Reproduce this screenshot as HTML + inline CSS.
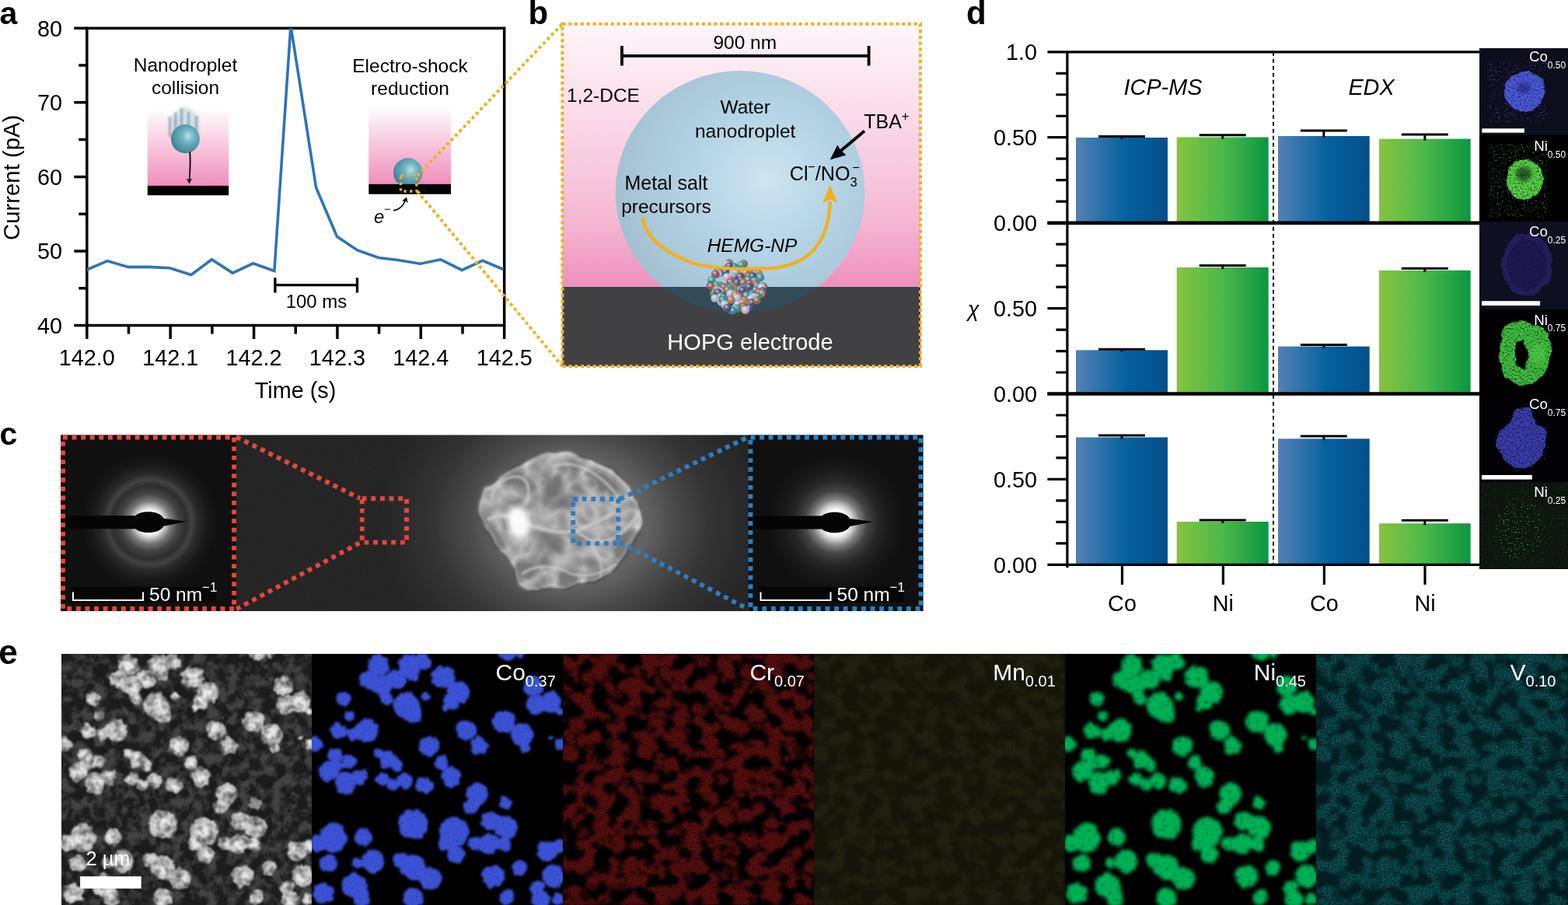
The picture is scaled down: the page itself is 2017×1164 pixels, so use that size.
<!DOCTYPE html>
<html><head><meta charset="utf-8"><title>Figure</title>
<style>
html,body{margin:0;padding:0;background:#fff;}
body{width:2017px;height:1164px;overflow:hidden;}
svg{display:block;}
svg text{font-family:'Liberation Sans', Arial, Helvetica, sans-serif;}
</style></head><body>
<svg width="2017" height="1164" viewBox="0 0 2017 1164">
<defs>
<linearGradient id="pinkA" x1="0" y1="0" x2="0" y2="1">
  <stop offset="0" stop-color="#ffffff"/>
  <stop offset="0.12" stop-color="#fdf0f6"/>
  <stop offset="1" stop-color="#f08ebb"/>
</linearGradient>
<linearGradient id="pinkB" x1="0" y1="0" x2="0" y2="1">
  <stop offset="0" stop-color="#fef6fa"/>
  <stop offset="0.5" stop-color="#f8cfe2"/>
  <stop offset="1" stop-color="#ef8fbd"/>
</linearGradient>
<radialGradient id="ballG" cx="0.6" cy="0.4" r="0.65">
  <stop offset="0" stop-color="#b9dfe8"/>
  <stop offset="0.35" stop-color="#6fb3c6"/>
  <stop offset="1" stop-color="#3f7d90"/>
</radialGradient>
<radialGradient id="dropG" cx="0.6" cy="0.45" r="0.6">
  <stop offset="0" stop-color="#cfe4ef"/>
  <stop offset="0.45" stop-color="#b5d5e6"/>
  <stop offset="1" stop-color="#a4c1d2"/>
</radialGradient>
<linearGradient id="blueBar" x1="0" y1="0" x2="1" y2="0">
  <stop offset="0" stop-color="#5481b4"/>
  <stop offset="0.55" stop-color="#04609f"/>
  <stop offset="1" stop-color="#064f8a"/>
</linearGradient>
<linearGradient id="greenBar" x1="0" y1="0" x2="1" y2="0">
  <stop offset="0" stop-color="#86c440"/>
  <stop offset="0.5" stop-color="#4bb84a"/>
  <stop offset="1" stop-color="#0a9640"/>
</linearGradient>
<filter id="blur1"><feGaussianBlur stdDeviation="1"/></filter>
<filter id="blur2"><feGaussianBlur stdDeviation="2"/></filter>
<filter id="blur4"><feGaussianBlur stdDeviation="4"/></filter>
<clipPath id="clipA"><rect x="111.8" y="36.3" width="536.9000000000001" height="382.2"/></clipPath><linearGradient id="pinkBg" x1="0" y1="0" x2="0" y2="1">
  <stop offset="0" stop-color="#fff6fa"/>
  <stop offset="0.35" stop-color="#fbdbe9"/>
  <stop offset="0.75" stop-color="#f5b7d3"/>
  <stop offset="1" stop-color="#ef8fbd"/>
</linearGradient>
<clipPath id="clipBot"><rect x="723" y="369" width="461" height="103"/></clipPath>
<clipPath id="clipTop"><rect x="723" y="30" width="461" height="339"/></clipPath>
<radialGradient id="npBall" cx="0.38" cy="0.35" r="0.7">
  <stop offset="0" stop-color="#fff" stop-opacity="0.7"/>
  <stop offset="0.5" stop-color="#fff" stop-opacity="0"/>
  <stop offset="1" stop-color="#000" stop-opacity="0.35"/>
</radialGradient>
<radialGradient id="temBg" gradientUnits="userSpaceOnUse" cx="735" cy="672" r="245" gradientTransform="translate(735 672) scale(1 0.85) translate(-735 -672)">
  <stop offset="0" stop-color="#6c6c6c"/>
  <stop offset="0.4" stop-color="#5c5c5c"/>
  <stop offset="0.55" stop-color="#424242"/>
  <stop offset="0.72" stop-color="#2c2c2c"/>
  <stop offset="0.88" stop-color="#222"/>
  <stop offset="1" stop-color="#1c1c1c"/>
</radialGradient>
<radialGradient id="saed1">
  <stop offset="0" stop-color="#ffffff"/>
  <stop offset="0.17" stop-color="#ffffff"/>
  <stop offset="0.23" stop-color="#c8c8c8"/>
  <stop offset="0.31" stop-color="#7a7a7a"/>
  <stop offset="0.42" stop-color="#444"/>
  <stop offset="0.54" stop-color="#2e2e2e"/>
  <stop offset="0.62" stop-color="#424242"/>
  <stop offset="0.7" stop-color="#2a2a2a"/>
  <stop offset="0.85" stop-color="#181818"/>
  <stop offset="1" stop-color="#101010"/>
</radialGradient>
<radialGradient id="saed2">
  <stop offset="0" stop-color="#ffffff"/>
  <stop offset="0.18" stop-color="#ffffff"/>
  <stop offset="0.25" stop-color="#d0d0d0"/>
  <stop offset="0.34" stop-color="#808080"/>
  <stop offset="0.46" stop-color="#444"/>
  <stop offset="0.62" stop-color="#262626"/>
  <stop offset="0.8" stop-color="#181818"/>
  <stop offset="1" stop-color="#101010"/>
</radialGradient>
<filter id="noiseF" x="0" y="0" width="100%" height="100%">
  <feTurbulence type="fractalNoise" baseFrequency="0.9" numOctaves="1" seed="3" result="n"/>
  <feColorMatrix in="n" type="matrix" values="0 0 0 0 0.5  0 0 0 0 0.5  0 0 0 0 0.5  0 0 0 0.12 0"/>
</filter>
<filter id="partF" x="-10%" y="-10%" width="120%" height="120%">
  <feTurbulence type="fractalNoise" baseFrequency="0.03" numOctaves="3" seed="5" result="t"/>
  <feDisplacementMap in="SourceGraphic" in2="t" scale="14" xChannelSelector="R" yChannelSelector="G" result="dsp"/>
  <feGaussianBlur in="dsp" stdDeviation="1.5"/>
</filter>
<filter id="ridgeF" x="-10%" y="-10%" width="120%" height="120%">
  <feGaussianBlur stdDeviation="1.6"/>
</filter>
<clipPath id="clipC1"><rect x="78" y="559.5" width="226" height="226.5"/></clipPath>
<clipPath id="clipC2"><rect x="962.5" y="559.5" width="225" height="226.5"/></clipPath>
<filter id="crumple" x="-10%" y="-10%" width="120%" height="120%" color-interpolation-filters="sRGB">
  <feTurbulence type="fractalNoise" baseFrequency="0.03" numOctaves="3" seed="5" result="t0"/>
  <feDisplacementMap in="SourceGraphic" in2="t0" scale="14" xChannelSelector="R" yChannelSelector="G" result="shape"/>
  <feGaussianBlur in="shape" stdDeviation="2" result="shapeb"/>
  <feTurbulence type="turbulence" baseFrequency="0.028" numOctaves="2" seed="21" result="t"/>
  <feColorMatrix in="t" type="matrix" values="-2.2 0 0 0 1  -2.2 0 0 0 1  -2.2 0 0 0 1  0 0 0 0 1" result="ridge"/>
  <feGaussianBlur in="ridge" stdDeviation="0.8" result="ridgeb"/>
  <feComposite in="ridgeb" in2="shapeb" operator="in" result="rin"/>
  <feComponentTransfer in="rin" result="rin2"><feFuncR type="linear" slope="0.3" intercept="0.0"/><feFuncG type="linear" slope="0.3" intercept="0.0"/><feFuncB type="linear" slope="0.3" intercept="0.0"/></feComponentTransfer>
  <feComposite in="shapeb" in2="rin2" operator="arithmetic" k2="1" k3="1"/>
</filter>
<filter id="fEdx" x="-20%" y="-20%" width="140%" height="140%" color-interpolation-filters="sRGB">
  <feTurbulence type="fractalNoise" baseFrequency="0.09" numOctaves="2" seed="4" result="t"/>
  <feDisplacementMap in="SourceGraphic" in2="t" scale="6" xChannelSelector="R" yChannelSelector="G" result="d"/>
  <feGaussianBlur in="d" stdDeviation="0.7" result="b"/>
  <feTurbulence type="fractalNoise" baseFrequency="0.45" numOctaves="1" seed="7" result="n"/>
  <feColorMatrix in="n" type="matrix" values="0 0 0 0 0  0 0 0 0 0  0 0 0 0 0  1.8 0 0 0 0.0" result="sp"/>
  <feComposite in="b" in2="sp" operator="in"/>
</filter>
<filter id="fScat" x="0" y="0" width="100%" height="100%" color-interpolation-filters="sRGB">
  <feTurbulence type="fractalNoise" baseFrequency="0.5" numOctaves="1" seed="11" result="n"/>
  <feColorMatrix in="n" type="matrix" values="0 0 0 0 0  0 0 0 0 0  0 0 0 0 0  -14 0 0 0 4.75" result="sp"/>
  <feComposite in="SourceGraphic" in2="sp" operator="in"/>
</filter>
<radialGradient id="scatG"><stop offset="0" stop-color="#fff" stop-opacity="1"/><stop offset="1" stop-color="#fff" stop-opacity="0"/></radialGradient>
<filter id="fCrM" x="0" y="0" width="100%" height="100%" color-interpolation-filters="sRGB">
  <feTurbulence type="fractalNoise" baseFrequency="0.05 0.06" numOctaves="3" seed="12" result="t"/>
  <feColorMatrix in="t" type="matrix" values="0 0 0 0 0  0 0 0 0 0  0 0 0 0 0  5.556 0 0 0 -2.167" result="mask0"/>
  <feGaussianBlur in="mask0" stdDeviation="1.6" result="mask"/>
  <feTurbulence type="fractalNoise" baseFrequency="0.5" numOctaves="1" seed="2" result="n"/>
  <feColorMatrix in="n" type="matrix" values="0 0 0 0 0  0 0 0 0 0  0 0 0 0 0  0.75 0 0 0 0.2" result="sp"/>
  <feComposite in="mask" in2="sp" operator="arithmetic" k1="1" result="m2"/>
  <feFlood flood-color="#861616" result="c"/>
  <feComposite in="c" in2="m2" operator="in"/>
</filter><filter id="fVM" x="0" y="0" width="100%" height="100%" color-interpolation-filters="sRGB">
  <feTurbulence type="fractalNoise" baseFrequency="0.05 0.06" numOctaves="3" seed="12" result="t"/>
  <feColorMatrix in="t" type="matrix" values="0 0 0 0 0  0 0 0 0 0  0 0 0 0 0  5.556 0 0 0 -2.167" result="mask0"/>
  <feGaussianBlur in="mask0" stdDeviation="1.6" result="mask"/>
  <feTurbulence type="fractalNoise" baseFrequency="0.5" numOctaves="1" seed="2" result="n"/>
  <feColorMatrix in="n" type="matrix" values="0 0 0 0 0  0 0 0 0 0  0 0 0 0 0  1.15 0 0 0 -0.22" result="sp"/>
  <feComposite in="mask" in2="sp" operator="arithmetic" k1="1" result="m2"/>
  <feFlood flood-color="#1a7e84" result="c"/>
  <feComposite in="c" in2="m2" operator="in"/>
</filter><filter id="fMnM" x="0" y="0" width="100%" height="100%" color-interpolation-filters="sRGB">
  <feTurbulence type="fractalNoise" baseFrequency="0.05 0.06" numOctaves="3" seed="12" result="t"/>
  <feColorMatrix in="t" type="matrix" values="0 0 0 0 0  0 0 0 0 0  0 0 0 0 0  5.000 0 0 0 -2.100" result="mask0"/>
  <feGaussianBlur in="mask0" stdDeviation="1.6" result="mask"/>
  <feTurbulence type="fractalNoise" baseFrequency="0.5" numOctaves="1" seed="2" result="n"/>
  <feColorMatrix in="n" type="matrix" values="0 0 0 0 0  0 0 0 0 0  0 0 0 0 0  0.8 0 0 0 0.2" result="sp"/>
  <feComposite in="mask" in2="sp" operator="arithmetic" k1="1" result="m2"/>
  <feFlood flood-color="#282812" result="c"/>
  <feComposite in="c" in2="m2" operator="in"/>
</filter>
<filter id="fCo" x="-5%" y="-5%" width="110%" height="110%" color-interpolation-filters="sRGB">
  <feTurbulence type="fractalNoise" baseFrequency="0.12" numOctaves="2" seed="2" result="t"/>
  <feDisplacementMap in="SourceGraphic" in2="t" scale="8" xChannelSelector="R" yChannelSelector="G" result="d"/>
  <feGaussianBlur in="d" stdDeviation="1.7" result="b"/>
  <feTurbulence type="fractalNoise" baseFrequency="0.35" numOctaves="1" seed="5" result="n"/>
  <feColorMatrix in="n" type="matrix" values="0 0 0 0 0  0 0 0 0 0  0 0 0 0 0  0.8 0 0 0 0.65" result="sp"/>
  <feComposite in="b" in2="sp" operator="in"/>
</filter>
<filter id="fNi" x="-5%" y="-5%" width="110%" height="110%" color-interpolation-filters="sRGB">
  <feTurbulence type="fractalNoise" baseFrequency="0.12" numOctaves="2" seed="2" result="t"/>
  <feDisplacementMap in="SourceGraphic" in2="t" scale="8" xChannelSelector="R" yChannelSelector="G" result="d"/>
  <feGaussianBlur in="d" stdDeviation="2.2" result="b"/>
  <feTurbulence type="fractalNoise" baseFrequency="0.2" numOctaves="1" seed="5" result="n"/>
  <feColorMatrix in="n" type="matrix" values="0 0 0 0 0  0 0 0 0 0  0 0 0 0 0  1.0 0 0 0 0.55" result="sp"/>
  <feComposite in="b" in2="sp" operator="in"/>
</filter>
<filter id="fSem" x="-5%" y="-5%" width="110%" height="110%" color-interpolation-filters="sRGB">
  <feTurbulence type="fractalNoise" baseFrequency="0.12" numOctaves="2" seed="2" result="t"/>
  <feDisplacementMap in="SourceGraphic" in2="t" scale="9" xChannelSelector="R" yChannelSelector="G" result="d"/>
  <feGaussianBlur in="d" stdDeviation="0.9" result="b"/>
  <feTurbulence type="fractalNoise" baseFrequency="0.09" numOctaves="2" seed="8" result="n"/>
  <feColorMatrix in="n" type="matrix" values="1.2 0 0 0 0.25  1.2 0 0 0 0.25  1.2 0 0 0 0.25  0 0 0 0 1" result="sp"/>
  <feComposite in="b" in2="sp" operator="arithmetic" k1="1"/>
</filter>
<filter id="fSemBg" x="0" y="0" width="100%" height="100%" color-interpolation-filters="sRGB">
  <feTurbulence type="fractalNoise" baseFrequency="0.07" numOctaves="3" seed="9" result="t"/>
  <feColorMatrix in="t" type="matrix" values="0 0 0 0 0.26  0 0 0 0 0.26  0 0 0 0 0.26  3.5 0 0 0 -1.4"/>
</filter>
<clipPath id="ceL"><rect x="0" y="0" width="324" height="323"/></clipPath></defs>
<rect width="2017" height="1164" fill="#fff"/>
<text x="-0.5" y="31.2" font-size="41" font-weight="bold">a</text><g><rect x="189.8" y="140" width="104.4" height="99" fill="url(#pinkA)"/><rect x="189.8" y="238.9" width="104.4" height="12.3" fill="#000"/><g filter="url(#blur2)"><path d="M220,178 L220,152 Q228,140 238,137 Q248,140 256,152 L256,178 Z" fill="#c9dbe3" opacity="0.75"/></g><g filter="url(#blur1)" opacity="0.55"><rect x="216.7" y="150" width="3.6" height="26" fill="#6d8c9c"/><rect x="224.0" y="145" width="3.6" height="31" fill="#6d8c9c"/><rect x="231.79999999999998" y="139" width="3.6" height="37" fill="#6d8c9c"/><rect x="240.79999999999998" y="144" width="3.6" height="32" fill="#6d8c9c"/><rect x="250.79999999999998" y="149" width="3.6" height="27" fill="#6d8c9c"/></g><circle cx="238.4" cy="178.6" r="18.5" fill="url(#ballG)"/><path d="M244.2,195.4 C245.5,210 244,222 243.6,233" stroke="#000" stroke-width="1.8" fill="none"/><path d="M239.8,229.5 L243.5,236.5 L247.2,229.5 L243.5,231.5 Z" fill="#000"/></g><rect x="474.3" y="136" width="105.7" height="101" fill="url(#pinkA)"/><circle cx="524.7" cy="222" r="18.8" fill="url(#ballG)"/><rect x="474.3" y="236.9" width="105.7" height="12.8" fill="#000"/><path d="M506,270.6 C513,270 519,265 521.5,257" stroke="#000" stroke-width="1.8" fill="none"/><path d="M517.2,258.5 L523,253.5 L524.8,261 L521.5,258.5 Z" fill="#000"/><text x="481" y="287" font-size="24" font-style="italic">e</text><text x="494" y="274" font-size="15">−</text><text x="238.5" y="91.6" font-size="24.5" text-anchor="middle">Nanodroplet</text><text x="238.5" y="121" font-size="24.5" text-anchor="middle">collision</text><text x="527.5" y="92.8" font-size="24.5" text-anchor="middle">Electro-shock</text><text x="527.5" y="121.8" font-size="24.5" text-anchor="middle">reduction</text><rect x="111.8" y="36.3" width="536.9000000000001" height="382.2" fill="none" stroke="#000" stroke-width="3.5"/><path d="M95.3,418.50H111.8M101.3,370.73H111.8M95.3,322.95H111.8M101.3,275.18H111.8M95.3,227.40H111.8M101.3,179.62H111.8M95.3,131.85H111.8M101.3,84.07H111.8M95.3,36.30H111.8M111.80,418.5V436.0M165.49,418.5V429.5M219.18,418.5V436.0M272.87,418.5V429.5M326.56,418.5V436.0M380.25,418.5V429.5M433.94,418.5V436.0M487.63,418.5V429.5M541.32,418.5V436.0M595.01,418.5V429.5M648.70,418.5V436.0" stroke="#000" stroke-width="3.5" fill="none"/><text x="80" y="428.8" font-size="28.8" text-anchor="end">40</text><text x="80" y="333.2" font-size="28.8" text-anchor="end">50</text><text x="80" y="237.7" font-size="28.8" text-anchor="end">60</text><text x="80" y="142.2" font-size="28.8" text-anchor="end">70</text><text x="80" y="46.6" font-size="28.8" text-anchor="end">80</text><text x="111.8" y="470.3" font-size="28.8" text-anchor="middle">142.0</text><text x="219.2" y="470.3" font-size="28.8" text-anchor="middle">142.1</text><text x="326.6" y="470.3" font-size="28.8" text-anchor="middle">142.2</text><text x="433.9" y="470.3" font-size="28.8" text-anchor="middle">142.3</text><text x="541.3" y="470.3" font-size="28.8" text-anchor="middle">142.4</text><text x="648.7" y="470.3" font-size="28.8" text-anchor="middle">142.5</text><text x="380" y="512" font-size="28.8" text-anchor="middle">Time (s)</text><text transform="translate(24.6,228.3) rotate(-90)" font-size="29.3" text-anchor="middle">Current (pA)</text><polyline clip-path="url(#clipA)" points="111.6,347 138,335.6 164.8,343.4 191.3,343.4 218.6,344.7 245.9,353.4 272.3,333.8 299.2,351.1 325.6,338.8 352.9,348.4 374.0,33 406.6,241.3 433.5,304.2 459.9,322 487.2,331.5 513.7,334.7 540.5,339.2 566.9,333.8 594.3,347.4 620.7,335.2 647.5,346.5" fill="none" stroke="#2f74b5" stroke-width="3.6" stroke-linejoin="miter" stroke-miterlimit="20"/><path d="M353.9,366.7H459.5M353.9,357.3V376.4M459.5,357.3V376.4" stroke="#000" stroke-width="3.3" fill="none"/><text x="407" y="395.9" font-size="24" text-anchor="middle">100 ms</text><rect x="515.5" y="225.6" width="20.4" height="20.4" fill="none" stroke="#f2b01e" stroke-width="3.4" stroke-dasharray="3.4 4.3"/><path d="M537,226 L723.4,30.7 M537,246 L723.4,471.1" stroke="#f2b01e" stroke-width="4" stroke-dasharray="4 3.8" fill="none"/><text x="679.5" y="31.4" font-size="42" font-weight="bold">b</text><rect x="723.4" y="30.7" width="460.6" height="338.5" fill="url(#pinkBg)"/><rect x="723.4" y="369" width="460.6" height="102.1" fill="#414143"/><ellipse cx="952.1" cy="247" rx="160.4" ry="155.9" fill="url(#dropG)" clip-path="url(#clipTop)"/><ellipse cx="952.1" cy="247" rx="160.4" ry="155.9" fill="#324b58" clip-path="url(#clipBot)"/><g><circle cx="938.0" cy="338.5" r="5.2" fill="#a87c50"/><circle cx="938.0" cy="338.5" r="5.2" fill="url(#npBall)"/><circle cx="937.9" cy="338.8" r="5.2" fill="#8b6a48"/><circle cx="937.9" cy="338.8" r="5.2" fill="url(#npBall)"/><circle cx="938.4" cy="340.1" r="5.2" fill="#8b6a48"/><circle cx="938.4" cy="340.1" r="5.2" fill="url(#npBall)"/><circle cx="956.7" cy="339.2" r="5.2" fill="#8b6a48"/><circle cx="956.7" cy="339.2" r="5.2" fill="url(#npBall)"/><circle cx="935.4" cy="340.5" r="5.2" fill="#b4b4d2"/><circle cx="935.4" cy="340.5" r="5.2" fill="url(#npBall)"/><circle cx="944.4" cy="343.4" r="5.2" fill="#3b7f8c"/><circle cx="944.4" cy="343.4" r="5.2" fill="url(#npBall)"/><circle cx="953.5" cy="340.7" r="5.2" fill="#2a9a9c"/><circle cx="953.5" cy="340.7" r="5.2" fill="url(#npBall)"/><circle cx="937.9" cy="342.4" r="5.2" fill="#434a7c"/><circle cx="937.9" cy="342.4" r="5.2" fill="url(#npBall)"/><circle cx="932.9" cy="348.1" r="5.2" fill="#2a9a9c"/><circle cx="932.9" cy="348.1" r="5.2" fill="url(#npBall)"/><circle cx="927.4" cy="348.3" r="5.2" fill="#2a9a9c"/><circle cx="927.4" cy="348.3" r="5.2" fill="url(#npBall)"/><circle cx="923.5" cy="348.6" r="5.2" fill="#2a9a9c"/><circle cx="923.5" cy="348.6" r="5.2" fill="url(#npBall)"/><circle cx="932.4" cy="346.6" r="5.2" fill="#a87c50"/><circle cx="932.4" cy="346.6" r="5.2" fill="url(#npBall)"/><circle cx="949.1" cy="347.6" r="5.2" fill="#3b7f8c"/><circle cx="949.1" cy="347.6" r="5.2" fill="url(#npBall)"/><circle cx="966.2" cy="350.6" r="5.2" fill="#a87c50"/><circle cx="966.2" cy="350.6" r="5.2" fill="url(#npBall)"/><circle cx="964.3" cy="351.2" r="5.2" fill="#a87c50"/><circle cx="964.3" cy="351.2" r="5.2" fill="url(#npBall)"/><circle cx="924.2" cy="350.2" r="5.2" fill="#2a9a9c"/><circle cx="924.2" cy="350.2" r="5.2" fill="url(#npBall)"/><circle cx="930.6" cy="350.4" r="5.2" fill="#434a7c"/><circle cx="930.6" cy="350.4" r="5.2" fill="url(#npBall)"/><circle cx="932.9" cy="349.4" r="5.2" fill="#434a7c"/><circle cx="932.9" cy="349.4" r="5.2" fill="url(#npBall)"/><circle cx="961.4" cy="349.5" r="5.2" fill="#434a7c"/><circle cx="961.4" cy="349.5" r="5.2" fill="url(#npBall)"/><circle cx="945.1" cy="349.1" r="5.2" fill="#b4b4d2"/><circle cx="945.1" cy="349.1" r="5.2" fill="url(#npBall)"/><circle cx="956.4" cy="351.9" r="5.2" fill="#a87c50"/><circle cx="956.4" cy="351.9" r="5.2" fill="url(#npBall)"/><circle cx="963.8" cy="348.7" r="5.2" fill="#a87c50"/><circle cx="963.8" cy="348.7" r="5.2" fill="url(#npBall)"/><circle cx="923.7" cy="352.3" r="5.2" fill="#b4b4d2"/><circle cx="923.7" cy="352.3" r="5.2" fill="url(#npBall)"/><circle cx="958.2" cy="351.5" r="5.2" fill="#8b6a48"/><circle cx="958.2" cy="351.5" r="5.2" fill="url(#npBall)"/><circle cx="920.4" cy="352.4" r="5.2" fill="#9a4c55"/><circle cx="920.4" cy="352.4" r="5.2" fill="url(#npBall)"/><circle cx="971.8" cy="351.0" r="5.2" fill="#3b7f8c"/><circle cx="971.8" cy="351.0" r="5.2" fill="url(#npBall)"/><circle cx="975.7" cy="352.0" r="5.2" fill="#a87c50"/><circle cx="975.7" cy="352.0" r="5.2" fill="url(#npBall)"/><circle cx="956.6" cy="350.1" r="5.2" fill="#b4b4d2"/><circle cx="956.6" cy="350.1" r="5.2" fill="url(#npBall)"/><circle cx="958.9" cy="350.8" r="5.2" fill="#a87c50"/><circle cx="958.9" cy="350.8" r="5.2" fill="url(#npBall)"/><circle cx="950.7" cy="355.0" r="5.2" fill="#a87c50"/><circle cx="950.7" cy="355.0" r="5.2" fill="url(#npBall)"/><circle cx="934.8" cy="356.1" r="5.2" fill="#b4b4d2"/><circle cx="934.8" cy="356.1" r="5.2" fill="url(#npBall)"/><circle cx="967.5" cy="356.4" r="5.2" fill="#2a9a9c"/><circle cx="967.5" cy="356.4" r="5.2" fill="url(#npBall)"/><circle cx="974.7" cy="355.2" r="5.2" fill="#a87c50"/><circle cx="974.7" cy="355.2" r="5.2" fill="url(#npBall)"/><circle cx="971.2" cy="355.9" r="5.2" fill="#a87c50"/><circle cx="971.2" cy="355.9" r="5.2" fill="url(#npBall)"/><circle cx="963.4" cy="355.3" r="5.2" fill="#9a4c55"/><circle cx="963.4" cy="355.3" r="5.2" fill="url(#npBall)"/><circle cx="952.2" cy="356.0" r="5.2" fill="#434a7c"/><circle cx="952.2" cy="356.0" r="5.2" fill="url(#npBall)"/><circle cx="967.9" cy="355.4" r="5.2" fill="#434a7c"/><circle cx="967.9" cy="355.4" r="5.2" fill="url(#npBall)"/><circle cx="978.0" cy="356.8" r="5.2" fill="#2a9a9c"/><circle cx="978.0" cy="356.8" r="5.2" fill="url(#npBall)"/><circle cx="915.5" cy="360.2" r="5.2" fill="#2a9a9c"/><circle cx="915.5" cy="360.2" r="5.2" fill="url(#npBall)"/><circle cx="952.2" cy="361.9" r="5.2" fill="#a87c50"/><circle cx="952.2" cy="361.9" r="5.2" fill="url(#npBall)"/><circle cx="940.8" cy="360.3" r="5.2" fill="#a87c50"/><circle cx="940.8" cy="360.3" r="5.2" fill="url(#npBall)"/><circle cx="962.4" cy="360.0" r="5.2" fill="#3b7f8c"/><circle cx="962.4" cy="360.0" r="5.2" fill="url(#npBall)"/><circle cx="944.8" cy="361.3" r="5.2" fill="#434a7c"/><circle cx="944.8" cy="361.3" r="5.2" fill="url(#npBall)"/><circle cx="943.4" cy="364.1" r="5.2" fill="#434a7c"/><circle cx="943.4" cy="364.1" r="5.2" fill="url(#npBall)"/><circle cx="948.0" cy="363.4" r="5.2" fill="#434a7c"/><circle cx="948.0" cy="363.4" r="5.2" fill="url(#npBall)"/><circle cx="970.5" cy="361.4" r="5.2" fill="#2a9a9c"/><circle cx="970.5" cy="361.4" r="5.2" fill="url(#npBall)"/><circle cx="939.7" cy="362.9" r="5.2" fill="#9a4c55"/><circle cx="939.7" cy="362.9" r="5.2" fill="url(#npBall)"/><circle cx="972.1" cy="364.4" r="5.2" fill="#a87c50"/><circle cx="972.1" cy="364.4" r="5.2" fill="url(#npBall)"/><circle cx="941.7" cy="367.7" r="5.2" fill="#3b7f8c"/><circle cx="941.7" cy="367.7" r="5.2" fill="url(#npBall)"/><circle cx="956.3" cy="363.7" r="5.2" fill="#8b6a48"/><circle cx="956.3" cy="363.7" r="5.2" fill="url(#npBall)"/><circle cx="963.7" cy="368.0" r="5.2" fill="#3b7f8c"/><circle cx="963.7" cy="368.0" r="5.2" fill="url(#npBall)"/><circle cx="964.1" cy="365.3" r="5.2" fill="#9a4c55"/><circle cx="964.1" cy="365.3" r="5.2" fill="url(#npBall)"/><circle cx="972.7" cy="365.6" r="5.2" fill="#9a4c55"/><circle cx="972.7" cy="365.6" r="5.2" fill="url(#npBall)"/><circle cx="925.8" cy="367.0" r="5.2" fill="#2a9a9c"/><circle cx="925.8" cy="367.0" r="5.2" fill="url(#npBall)"/><circle cx="933.8" cy="371.1" r="5.2" fill="#434a7c"/><circle cx="933.8" cy="371.1" r="5.2" fill="url(#npBall)"/><circle cx="931.3" cy="369.2" r="5.2" fill="#9a4c55"/><circle cx="931.3" cy="369.2" r="5.2" fill="url(#npBall)"/><circle cx="944.6" cy="369.6" r="5.2" fill="#8b6a48"/><circle cx="944.6" cy="369.6" r="5.2" fill="url(#npBall)"/><circle cx="974.4" cy="368.3" r="5.2" fill="#2a9a9c"/><circle cx="974.4" cy="368.3" r="5.2" fill="url(#npBall)"/><circle cx="914.3" cy="367.2" r="5.2" fill="#434a7c"/><circle cx="914.3" cy="367.2" r="5.2" fill="url(#npBall)"/><circle cx="921.1" cy="367.1" r="5.2" fill="#2a9a9c"/><circle cx="921.1" cy="367.1" r="5.2" fill="url(#npBall)"/><circle cx="957.3" cy="369.0" r="5.2" fill="#8b6a48"/><circle cx="957.3" cy="369.0" r="5.2" fill="url(#npBall)"/><circle cx="914.3" cy="368.1" r="5.2" fill="#9a4c55"/><circle cx="914.3" cy="368.1" r="5.2" fill="url(#npBall)"/><circle cx="954.5" cy="372.3" r="5.2" fill="#b4b4d2"/><circle cx="954.5" cy="372.3" r="5.2" fill="url(#npBall)"/><circle cx="957.9" cy="369.3" r="5.2" fill="#434a7c"/><circle cx="957.9" cy="369.3" r="5.2" fill="url(#npBall)"/><circle cx="971.6" cy="373.3" r="5.2" fill="#8b6a48"/><circle cx="971.6" cy="373.3" r="5.2" fill="url(#npBall)"/><circle cx="936.1" cy="370.9" r="5.2" fill="#3b7f8c"/><circle cx="936.1" cy="370.9" r="5.2" fill="url(#npBall)"/><circle cx="979.0" cy="368.7" r="5.2" fill="#434a7c"/><circle cx="979.0" cy="368.7" r="5.2" fill="url(#npBall)"/><circle cx="981.9" cy="368.5" r="5.2" fill="#8b6a48"/><circle cx="981.9" cy="368.5" r="5.2" fill="url(#npBall)"/><circle cx="961.6" cy="368.7" r="5.2" fill="#8b6a48"/><circle cx="961.6" cy="368.7" r="5.2" fill="url(#npBall)"/><circle cx="980.9" cy="373.4" r="5.2" fill="#3b7f8c"/><circle cx="980.9" cy="373.4" r="5.2" fill="url(#npBall)"/><circle cx="963.6" cy="369.1" r="5.2" fill="#434a7c"/><circle cx="963.6" cy="369.1" r="5.2" fill="url(#npBall)"/><circle cx="955.9" cy="372.8" r="5.2" fill="#a87c50"/><circle cx="955.9" cy="372.8" r="5.2" fill="url(#npBall)"/><circle cx="938.3" cy="374.8" r="5.2" fill="#434a7c"/><circle cx="938.3" cy="374.8" r="5.2" fill="url(#npBall)"/><circle cx="979.6" cy="369.1" r="5.2" fill="#b4b4d2"/><circle cx="979.6" cy="369.1" r="5.2" fill="url(#npBall)"/><circle cx="946.4" cy="372.7" r="5.2" fill="#2a9a9c"/><circle cx="946.4" cy="372.7" r="5.2" fill="url(#npBall)"/><circle cx="942.9" cy="370.4" r="5.2" fill="#a87c50"/><circle cx="942.9" cy="370.4" r="5.2" fill="url(#npBall)"/><circle cx="938.7" cy="370.5" r="5.2" fill="#3b7f8c"/><circle cx="938.7" cy="370.5" r="5.2" fill="url(#npBall)"/><circle cx="957.3" cy="373.7" r="5.2" fill="#434a7c"/><circle cx="957.3" cy="373.7" r="5.2" fill="url(#npBall)"/><circle cx="920.7" cy="372.4" r="5.2" fill="#2a9a9c"/><circle cx="920.7" cy="372.4" r="5.2" fill="url(#npBall)"/><circle cx="953.2" cy="372.9" r="5.2" fill="#b4b4d2"/><circle cx="953.2" cy="372.9" r="5.2" fill="url(#npBall)"/><circle cx="935.9" cy="373.0" r="5.2" fill="#8b6a48"/><circle cx="935.9" cy="373.0" r="5.2" fill="url(#npBall)"/><circle cx="957.7" cy="374.9" r="5.2" fill="#434a7c"/><circle cx="957.7" cy="374.9" r="5.2" fill="url(#npBall)"/><circle cx="922.4" cy="371.5" r="5.2" fill="#a87c50"/><circle cx="922.4" cy="371.5" r="5.2" fill="url(#npBall)"/><circle cx="941.6" cy="375.6" r="5.2" fill="#3b7f8c"/><circle cx="941.6" cy="375.6" r="5.2" fill="url(#npBall)"/><circle cx="956.3" cy="371.1" r="5.2" fill="#3b7f8c"/><circle cx="956.3" cy="371.1" r="5.2" fill="url(#npBall)"/><circle cx="945.8" cy="377.1" r="5.2" fill="#8b6a48"/><circle cx="945.8" cy="377.1" r="5.2" fill="url(#npBall)"/><circle cx="981.0" cy="374.5" r="5.2" fill="#434a7c"/><circle cx="981.0" cy="374.5" r="5.2" fill="url(#npBall)"/><circle cx="925.7" cy="374.8" r="5.2" fill="#b4b4d2"/><circle cx="925.7" cy="374.8" r="5.2" fill="url(#npBall)"/><circle cx="958.6" cy="375.6" r="5.2" fill="#9a4c55"/><circle cx="958.6" cy="375.6" r="5.2" fill="url(#npBall)"/><circle cx="954.8" cy="376.1" r="5.2" fill="#434a7c"/><circle cx="954.8" cy="376.1" r="5.2" fill="url(#npBall)"/><circle cx="918.0" cy="377.9" r="5.2" fill="#3b7f8c"/><circle cx="918.0" cy="377.9" r="5.2" fill="url(#npBall)"/><circle cx="967.8" cy="377.7" r="5.2" fill="#2a9a9c"/><circle cx="967.8" cy="377.7" r="5.2" fill="url(#npBall)"/><circle cx="955.0" cy="373.5" r="5.2" fill="#434a7c"/><circle cx="955.0" cy="373.5" r="5.2" fill="url(#npBall)"/><circle cx="920.0" cy="376.9" r="5.2" fill="#a87c50"/><circle cx="920.0" cy="376.9" r="5.2" fill="url(#npBall)"/><circle cx="975.7" cy="376.0" r="5.2" fill="#9a4c55"/><circle cx="975.7" cy="376.0" r="5.2" fill="url(#npBall)"/><circle cx="976.0" cy="380.3" r="5.2" fill="#9a4c55"/><circle cx="976.0" cy="380.3" r="5.2" fill="url(#npBall)"/><circle cx="922.5" cy="377.5" r="5.2" fill="#3b7f8c"/><circle cx="922.5" cy="377.5" r="5.2" fill="url(#npBall)"/><circle cx="923.7" cy="376.1" r="5.2" fill="#434a7c"/><circle cx="923.7" cy="376.1" r="5.2" fill="url(#npBall)"/><circle cx="939.3" cy="378.0" r="5.2" fill="#b4b4d2"/><circle cx="939.3" cy="378.0" r="5.2" fill="url(#npBall)"/><circle cx="979.6" cy="377.6" r="5.2" fill="#a87c50"/><circle cx="979.6" cy="377.6" r="5.2" fill="url(#npBall)"/><circle cx="926.8" cy="381.2" r="5.2" fill="#a87c50"/><circle cx="926.8" cy="381.2" r="5.2" fill="url(#npBall)"/><circle cx="959.9" cy="380.1" r="5.2" fill="#2a9a9c"/><circle cx="959.9" cy="380.1" r="5.2" fill="url(#npBall)"/><circle cx="951.1" cy="380.5" r="5.2" fill="#3b7f8c"/><circle cx="951.1" cy="380.5" r="5.2" fill="url(#npBall)"/><circle cx="967.6" cy="379.7" r="5.2" fill="#3b7f8c"/><circle cx="967.6" cy="379.7" r="5.2" fill="url(#npBall)"/><circle cx="974.9" cy="381.1" r="5.2" fill="#3b7f8c"/><circle cx="974.9" cy="381.1" r="5.2" fill="url(#npBall)"/><circle cx="969.9" cy="382.2" r="5.2" fill="#b4b4d2"/><circle cx="969.9" cy="382.2" r="5.2" fill="url(#npBall)"/><circle cx="930.6" cy="383.0" r="5.2" fill="#2a9a9c"/><circle cx="930.6" cy="383.0" r="5.2" fill="url(#npBall)"/><circle cx="945.9" cy="379.8" r="5.2" fill="#a87c50"/><circle cx="945.9" cy="379.8" r="5.2" fill="url(#npBall)"/><circle cx="965.4" cy="385.1" r="5.2" fill="#a87c50"/><circle cx="965.4" cy="385.1" r="5.2" fill="url(#npBall)"/><circle cx="919.6" cy="383.7" r="5.2" fill="#b4b4d2"/><circle cx="919.6" cy="383.7" r="5.2" fill="url(#npBall)"/><circle cx="951.9" cy="382.4" r="5.2" fill="#9a4c55"/><circle cx="951.9" cy="382.4" r="5.2" fill="url(#npBall)"/><circle cx="948.0" cy="383.1" r="5.2" fill="#b4b4d2"/><circle cx="948.0" cy="383.1" r="5.2" fill="url(#npBall)"/><circle cx="929.8" cy="387.7" r="5.2" fill="#b4b4d2"/><circle cx="929.8" cy="387.7" r="5.2" fill="url(#npBall)"/><circle cx="966.1" cy="384.2" r="5.2" fill="#b4b4d2"/><circle cx="966.1" cy="384.2" r="5.2" fill="url(#npBall)"/><circle cx="928.8" cy="385.6" r="5.2" fill="#2a9a9c"/><circle cx="928.8" cy="385.6" r="5.2" fill="url(#npBall)"/><circle cx="967.0" cy="389.3" r="5.2" fill="#434a7c"/><circle cx="967.0" cy="389.3" r="5.2" fill="url(#npBall)"/><circle cx="959.1" cy="387.9" r="5.2" fill="#a87c50"/><circle cx="959.1" cy="387.9" r="5.2" fill="url(#npBall)"/><circle cx="957.2" cy="386.5" r="5.2" fill="#a87c50"/><circle cx="957.2" cy="386.5" r="5.2" fill="url(#npBall)"/><circle cx="927.7" cy="388.2" r="5.2" fill="#b4b4d2"/><circle cx="927.7" cy="388.2" r="5.2" fill="url(#npBall)"/><circle cx="940.3" cy="385.6" r="5.2" fill="#a87c50"/><circle cx="940.3" cy="385.6" r="5.2" fill="url(#npBall)"/><circle cx="973.7" cy="386.5" r="5.2" fill="#8b6a48"/><circle cx="973.7" cy="386.5" r="5.2" fill="url(#npBall)"/><circle cx="929.7" cy="386.0" r="5.2" fill="#3b7f8c"/><circle cx="929.7" cy="386.0" r="5.2" fill="url(#npBall)"/><circle cx="961.0" cy="393.5" r="5.2" fill="#a87c50"/><circle cx="961.0" cy="393.5" r="5.2" fill="url(#npBall)"/><circle cx="955.1" cy="389.1" r="5.2" fill="#a87c50"/><circle cx="955.1" cy="389.1" r="5.2" fill="url(#npBall)"/><circle cx="931.9" cy="391.2" r="5.2" fill="#b4b4d2"/><circle cx="931.9" cy="391.2" r="5.2" fill="url(#npBall)"/><circle cx="948.8" cy="391.8" r="5.2" fill="#b4b4d2"/><circle cx="948.8" cy="391.8" r="5.2" fill="url(#npBall)"/><circle cx="945.9" cy="396.3" r="5.2" fill="#b4b4d2"/><circle cx="945.9" cy="396.3" r="5.2" fill="url(#npBall)"/><circle cx="934.8" cy="395.6" r="5.2" fill="#b4b4d2"/><circle cx="934.8" cy="395.6" r="5.2" fill="url(#npBall)"/><circle cx="952.0" cy="395.5" r="5.2" fill="#9a4c55"/><circle cx="952.0" cy="395.5" r="5.2" fill="url(#npBall)"/><circle cx="956.2" cy="393.4" r="5.2" fill="#2a9a9c"/><circle cx="956.2" cy="393.4" r="5.2" fill="url(#npBall)"/><circle cx="957.6" cy="392.7" r="5.2" fill="#a87c50"/><circle cx="957.6" cy="392.7" r="5.2" fill="url(#npBall)"/><circle cx="937.3" cy="397.6" r="5.2" fill="#434a7c"/><circle cx="937.3" cy="397.6" r="5.2" fill="url(#npBall)"/><circle cx="963.7" cy="395.9" r="5.2" fill="#434a7c"/><circle cx="963.7" cy="395.9" r="5.2" fill="url(#npBall)"/><circle cx="956.5" cy="394.4" r="5.2" fill="#9a4c55"/><circle cx="956.5" cy="394.4" r="5.2" fill="url(#npBall)"/><circle cx="947.3" cy="397.1" r="5.2" fill="#2a9a9c"/><circle cx="947.3" cy="397.1" r="5.2" fill="url(#npBall)"/><circle cx="941.9" cy="399.4" r="5.2" fill="#2a9a9c"/><circle cx="941.9" cy="399.4" r="5.2" fill="url(#npBall)"/><circle cx="942.8" cy="399.6" r="5.2" fill="#3b7f8c"/><circle cx="942.8" cy="399.6" r="5.2" fill="url(#npBall)"/><circle cx="935.6" cy="396.1" r="5.2" fill="#434a7c"/><circle cx="935.6" cy="396.1" r="5.2" fill="url(#npBall)"/><circle cx="956.9" cy="397.4" r="5.2" fill="#8b6a48"/><circle cx="956.9" cy="397.4" r="5.2" fill="url(#npBall)"/><circle cx="958.9" cy="398.7" r="5.2" fill="#b4b4d2"/><circle cx="958.9" cy="398.7" r="5.2" fill="url(#npBall)"/></g><path d="M826.7,280.1 C830,305 855,325 890,338 C920,347 960,347 999,344.4 C1035,339 1052,320 1060,300 C1066,285 1067.5,270 1067.8,259" stroke="#f2b01e" stroke-width="4.4" fill="none"/><path d="M1067.8,237.8 L1077.4,261 L1067.8,256.5 L1058.2,261 Z" fill="#f2b01e"/><path d="M1112,168.5 L1080,195.3" stroke="#000" stroke-width="4" fill="none"/><path d="M1067.7,205.4 L1077.2,186.4 L1081,192.5 L1088.4,199.5 Z" fill="#000"/><path d="M800,71.8H1117.6M800,59.1V84.4M1117.6,59.1V84.4" stroke="#000" stroke-width="3.8" fill="none"/><text x="958.3" y="63.2" font-size="24.5" text-anchor="middle">900 nm</text><text x="729" y="131" font-size="24.5">1,2-DCE</text><text x="958.7" y="146.4" font-size="24.5" text-anchor="middle">Water</text><text x="958.7" y="176.6" font-size="24.5" text-anchor="middle">nanodroplet</text><text x="1111.2" y="165" font-size="25">TBA<tspan font-size="16.5" dy="-10.5">+</tspan></text><text x="1015.8" y="231.5" font-size="25.2">Cl<tspan font-size="16.5" dy="-12" dx="-0.5">−</tspan><tspan dy="12">/NO</tspan><tspan font-size="16.5" dy="8.2">3</tspan><tspan font-size="16.5" dx="-6.5" dy="-18.5">−</tspan></text><text x="857" y="244.3" font-size="25" text-anchor="middle">Metal salt</text><text x="857" y="274" font-size="24.5" text-anchor="middle">precursors</text><text x="967.5" y="323.5" font-size="24.5" font-style="italic" text-anchor="middle">HEMG-NP</text><text x="965" y="449.8" font-size="29.1" fill="#fff" text-anchor="middle">HOPG electrode</text><rect x="723.4" y="30.7" width="460.6" height="440.4" fill="none" stroke="#f2b01e" stroke-width="4.1" stroke-dasharray="4.1 3.7"/><text x="-0.5" y="572" font-size="41" font-weight="bold">c</text><rect x="78" y="559.5" width="1109.5" height="226.5" fill="url(#temBg)"/><g filter="url(#crumple)"><path d="M625.2,627.9 L646.6,612.4 L667.9,600.8 L697,587.2 L726.2,582.3 L755.3,591.1 L784.4,604.6 L803.8,624 L823.2,649.3 L827.1,660.9 L819.4,686.2 L803.8,711.4 L786.3,730.8 L765,746.3 L735.9,752.2 L706.8,754.1 L681.5,756 L666,750.2 L662.1,730.8 L654.3,719.2 L638.8,699.8 L623.3,676.5 L619.4,657.1 Z" fill="#727272" stroke="#959595" stroke-width="5" stroke-linejoin="round"/></g><g filter="url(#blur4)" opacity="0.55"><path d="M690,640 C700,625 730,630 740,640 C745,650 720,655 700,652 Z" fill="#606060"/><path d="M690,690 C700,680 720,690 725,705 C715,720 695,715 690,700 Z" fill="#666"/></g><g filter="url(#ridgeF)" fill="none" stroke="#d4d4d4" stroke-linecap="round" opacity="0.75"><path d="M628,668 C645,660 660,664 675,672 C695,682 715,686 735,684 C755,680 772,668 790,660" stroke-width="4"/><path d="M740,682 C755,695 770,702 790,692 C805,682 815,672 822,660" stroke-width="3.5"/><path d="M672,738 C690,724 715,728 735,738 C755,744 772,738 792,726" stroke-width="3"/><path d="M632,640 C638,620 655,610 670,614 C682,620 682,636 676,650" stroke-width="3"/><path d="M712,600 C730,592 752,600 768,612 C780,620 790,632 798,642" stroke-width="3"/><path d="M760,700 C770,715 778,728 772,742" stroke-width="2.5"/></g><ellipse cx="667" cy="672" rx="14" ry="21" fill="#fff" filter="url(#blur4)" transform="rotate(-15 667 672)"/><ellipse cx="667" cy="672" rx="8.5" ry="14" fill="#fff" filter="url(#blur2)" transform="rotate(-15 667 672)"/><rect x="78" y="559.5" width="1109.5" height="226.5" filter="url(#noiseF)"/><g clip-path="url(#clipC1)"><rect x="78" y="559.5" width="226" height="226.5" fill="#101010"/><circle cx="192.5" cy="671.7" r="88" fill="url(#saed1)"/><path d="M78,663.2 H174.5 C180.5,656.7 204.5,655.7 210.5,666.7 L240.5,670.7 L210.5,676.7 C204.5,687.7 180.5,686.7 174.5,680.2 H78 Z" fill="#050505"/><rect x="91" y="755" width="187" height="20" fill="#060606"/><path d="M94,761.5 V772 H184 V761.5" stroke="#fff" stroke-width="2" fill="none"/><text x="192" y="773.2" font-size="24.5" fill="#fff">50 nm<tspan font-size="16.8" dy="-12.4">−1</tspan></text></g><g clip-path="url(#clipC2)"><rect x="962.5" y="559.5" width="225.0" height="226.5" fill="#101010"/><circle cx="1075.3" cy="672" r="88" fill="url(#saed2)"/><path d="M962.5,663.5 H1057.3 C1063.3,657 1087.3,656 1093.3,667 L1123.3,671 L1093.3,677 C1087.3,688 1063.3,687 1057.3,680.5 H962.5 Z" fill="#050505"/><rect x="975.5" y="755" width="187.0" height="20" fill="#060606"/><path d="M978.5,761.5 V772 H1068.5 V761.5" stroke="#fff" stroke-width="2" fill="none"/><text x="1076.5" y="773.2" font-size="24.5" fill="#fff">50 nm<tspan font-size="16.8" dy="-12.4">−1</tspan></text></g><rect x="80.95" y="562.45" width="220.1" height="220.6" fill="none" stroke="#e8453b" stroke-width="5.9" stroke-dasharray="5.9 5.7"/><rect x="465.75" y="641.25" width="57.29999999999999" height="56.40000000000007" fill="none" stroke="#e8453b" stroke-width="5.9" stroke-dasharray="5.9 5.7"/><path d="M304,562 L463,641 M304,783.5 L463,698" stroke="#e8453b" stroke-width="5.9" stroke-dasharray="5.9 5.7" fill="none"/><rect x="965.45" y="562.45" width="219.1" height="220.6" fill="none" stroke="#2b7ec6" stroke-width="5.9" stroke-dasharray="5.9 5.7"/><rect x="737.1500000000001" y="641.75" width="58.1" height="57.1" fill="none" stroke="#2b7ec6" stroke-width="5.9" stroke-dasharray="5.9 5.7"/><path d="M797.5,642 L962.5,562 M797.5,697.5 L962.5,783.5" stroke="#2b7ec6" stroke-width="5.9" stroke-dasharray="5.9 5.7" fill="none"/><text x="1243" y="31.4" font-size="42" font-weight="bold">d</text><rect x="1384" y="177" width="118" height="109.60000000000002" fill="url(#blueBar)"/><path d="M1413.0,175.4H1473.0M1443.0,175.4V179" stroke="#000" stroke-width="3" fill="none"/><rect x="1513.7" y="176.5" width="118.0" height="110.10000000000002" fill="url(#greenBar)"/><path d="M1542.7,173.8H1602.7M1572.7,173.8V178.5" stroke="#000" stroke-width="3" fill="none"/><rect x="1644" y="175" width="117.70000000000005" height="111.60000000000002" fill="url(#blueBar)"/><path d="M1672.85,168H1732.85M1702.85,168V177" stroke="#000" stroke-width="3" fill="none"/><rect x="1774" y="178.6" width="117.70000000000005" height="108.00000000000003" fill="url(#greenBar)"/><path d="M1802.85,173H1862.85M1832.85,173V180.6" stroke="#000" stroke-width="3" fill="none"/><rect x="1384" y="450.3" width="118" height="56.19999999999999" fill="url(#blueBar)"/><path d="M1413.0,449.2H1473.0M1443.0,449.2V452.3" stroke="#000" stroke-width="3" fill="none"/><rect x="1513.7" y="343.9" width="118.0" height="162.60000000000002" fill="url(#greenBar)"/><path d="M1542.7,341.4H1602.7M1572.7,341.4V345.9" stroke="#000" stroke-width="3" fill="none"/><rect x="1644" y="445.6" width="117.70000000000005" height="60.89999999999998" fill="url(#blueBar)"/><path d="M1672.85,443.5H1732.85M1702.85,443.5V447.6" stroke="#000" stroke-width="3" fill="none"/><rect x="1774" y="347.8" width="117.70000000000005" height="158.7" fill="url(#greenBar)"/><path d="M1802.85,345.3H1862.85M1832.85,345.3V349.8" stroke="#000" stroke-width="3" fill="none"/><rect x="1384" y="562.5" width="118" height="163.79999999999995" fill="url(#blueBar)"/><path d="M1413.0,560H1473.0M1443.0,560V564.5" stroke="#000" stroke-width="3" fill="none"/><rect x="1513.7" y="671" width="118.0" height="55.299999999999955" fill="url(#greenBar)"/><path d="M1542.7,668.9H1602.7M1572.7,668.9V673" stroke="#000" stroke-width="3" fill="none"/><rect x="1644" y="564.3" width="117.70000000000005" height="162.0" fill="url(#blueBar)"/><path d="M1672.85,561H1732.85M1702.85,561V566.3" stroke="#000" stroke-width="3" fill="none"/><rect x="1774" y="673.2" width="117.70000000000005" height="53.09999999999991" fill="url(#greenBar)"/><path d="M1802.85,669.2H1862.85M1832.85,669.2V675.2" stroke="#000" stroke-width="3" fill="none"/><path d="M1638,66.8V726.4" stroke="#000" stroke-width="2" stroke-dasharray="5 4" fill="none"/><path d="M1372.9,66.8V730.3M1347.4,66.8H1903M1347.4,286.7H1903M1347.4,506.5H1903M1347.4,726.3H1903M1358.4,94.28H1372.9M1358.4,121.75H1372.9M1358.4,149.23H1372.9M1347.4,176.70H1372.9M1358.4,204.18H1372.9M1358.4,231.65H1372.9M1358.4,259.12H1372.9M1358.4,314.18H1372.9M1358.4,341.65H1372.9M1358.4,369.12H1372.9M1347.4,396.60H1372.9M1358.4,424.07H1372.9M1358.4,451.55H1372.9M1358.4,479.02H1372.9M1358.4,533.98H1372.9M1358.4,561.45H1372.9M1358.4,588.92H1372.9M1347.4,616.40H1372.9M1358.4,643.88H1372.9M1358.4,671.35H1372.9M1358.4,698.83H1372.9M1443.5,726.3V752M1573.4,726.3V752M1703.4,726.3V752M1833,726.3V752" stroke="#000" stroke-width="3.2" fill="none"/><path d="M1347.4,286.7H1903M1347.4,506.5H1903" stroke="#000" stroke-width="4.4" fill="none"/><text x="1334" y="77.1" font-size="28.8" text-anchor="end">1.0</text><text x="1334" y="187.0" font-size="28.8" text-anchor="end">0.50</text><text x="1334" y="297.0" font-size="28.8" text-anchor="end">0.00</text><text x="1334" y="406.9" font-size="28.8" text-anchor="end">0.50</text><text x="1334" y="516.8" font-size="28.8" text-anchor="end">0.00</text><text x="1334" y="626.7" font-size="28.8" text-anchor="end">0.50</text><text x="1334" y="736.6" font-size="28.8" text-anchor="end">0.00</text><text x="1496" y="121.5" font-size="28.8" font-style="italic" text-anchor="middle">ICP-MS</text><text x="1764" y="121.5" font-size="28.8" font-style="italic" text-anchor="middle">EDX</text><text x="1252" y="407" font-size="27" font-style="italic" font-family="'Liberation Serif', serif" text-anchor="middle">χ</text><text x="1443.5" y="786.3" font-size="28.8" text-anchor="middle">Co</text><text x="1573.4" y="786.3" font-size="28.8" text-anchor="middle">Ni</text><text x="1703.4" y="786.3" font-size="28.8" text-anchor="middle">Co</text><text x="1833" y="786.3" font-size="28.8" text-anchor="middle">Ni</text><rect x="1903" y="62" width="114" height="112" fill="#0d0e1b"/><rect x="1903" y="174" width="114" height="111" fill="#000000"/><rect x="1903" y="285" width="114" height="113" fill="#0f0f22"/><rect x="1903" y="398" width="114" height="109" fill="#000000"/><rect x="1903" y="507" width="114" height="113" fill="#020205"/><rect x="1903" y="620" width="114" height="112" fill="#0d150d"/><rect x="1916" y="79" width="74" height="78" fill="#5a4ad0" filter="url(#fScat)" opacity="0.8"/><g filter="url(#fEdx)"><ellipse cx="1961.3" cy="117.3" rx="25.7" ry="26.7" fill="#4a5ad8"/></g><ellipse cx="1960" cy="113" rx="9" ry="7" fill="#1a1f60" opacity="0.5" filter="url(#blur2)"/><rect x="1915" y="185" width="75" height="95" fill="#30b030" filter="url(#fScat)" opacity="0.8"/><g filter="url(#fEdx)"><ellipse cx="1961.3" cy="231" rx="23.7" ry="25.7" fill="#58d048"/></g><ellipse cx="1960" cy="224" rx="10" ry="9" fill="#0a300a" opacity="0.7" filter="url(#blur2)"/><g filter="url(#fEdx)" opacity="0.5"><ellipse cx="1964" cy="340.3" rx="29" ry="37" fill="#2a2280"/><ellipse cx="1964" cy="340.3" rx="29" ry="37" fill="none" stroke="#3a30a0" stroke-width="7"/></g><g filter="url(#fEdx)"><path d="M1935,420 L1955,412 L1975,418 L1992,428 L1996,450 L1990,475 L1975,492 L1955,495 L1935,485 L1928,460 L1930,440 Z M1948,440 L1960,436 L1966,455 L1962,475 L1950,470 Z" fill="#40c040" fill-rule="evenodd"/></g><ellipse cx="1978" cy="455" rx="10" ry="14" fill="#50c848" opacity="0.6" filter="url(#blur2)"/><g filter="url(#fEdx)" opacity="0.85"><path d="M1950,527 L1968,524 L1975,545 L1990,555 L1985,585 L1970,600 L1950,603 L1935,592 L1924,572 L1928,555 L1942,545 Z" fill="#4448c8"/></g><path d="M1950,527 L1968,524 L1975,545 L1990,555 L1985,585 L1970,600 L1950,603 L1935,592 L1924,572 L1928,555 L1942,545 Z" fill="#3838b0" filter="url(#fScat)" transform="translate(1957 565) scale(1.15) translate(-1957 -565)"/><rect x="1905" y="622" width="110" height="108" fill="#208a20" filter="url(#fScat)" opacity="0.35"/><g filter="url(#fScat)" opacity="0.9"><ellipse cx="1955" cy="680" rx="30" ry="40" fill="#1e9a2a"/></g><rect x="1906.3" y="165.3" width="54.6" height="5.4" fill="#fff"/><rect x="1906" y="387.2" width="75.1" height="5.8" fill="#fff"/><rect x="1906" y="611" width="64.8" height="5.7" fill="#fff"/><text x="2014.2" y="79.4" font-size="18.7" fill="#fff" text-anchor="end">Co<tspan font-size="12" dy="8.9">0.50</tspan></text><text x="2014.2" y="194.4" font-size="18.7" fill="#fff" text-anchor="end">Ni<tspan font-size="12" dy="8.9">0.50</tspan></text><text x="2014.2" y="304.4" font-size="18.7" fill="#fff" text-anchor="end">Co<tspan font-size="12" dy="8.9">0.25</tspan></text><text x="2014.2" y="417.5" font-size="18.7" fill="#fff" text-anchor="end">Ni<tspan font-size="12" dy="8.9">0.75</tspan></text><text x="2014.2" y="526.3" font-size="18.7" fill="#fff" text-anchor="end">Co<tspan font-size="12" dy="8.9">0.75</tspan></text><text x="2014.2" y="639.4" font-size="18.7" fill="#fff" text-anchor="end">Ni<tspan font-size="12" dy="8.9">0.25</tspan></text><text x="-1.8" y="854.3" font-size="44" font-weight="bold">e</text><g transform="translate(79,841)"><g clip-path="url(#ceL)"><rect x="0" y="0" width="324" height="323" fill="#1c1c1c"/><rect x="0" y="0" width="324" height="323" filter="url(#fSemBg)"/><g filter="url(#fSem)" fill="#c8c8c8" ><circle cx="85.8" cy="14.8" r="13.1"/><circle cx="73.2" cy="32.9" r="10.9"/><circle cx="91.3" cy="41.2" r="12.5"/><circle cx="108.0" cy="32.9" r="12.5"/><circle cx="126.1" cy="14.8" r="14.0"/><circle cx="141.4" cy="10.6" r="10.9"/><circle cx="130.3" cy="25.9" r="9.3"/><circle cx="96.9" cy="57.9" r="7.8"/><circle cx="121.9" cy="66.3" r="16.2"/><circle cx="131.7" cy="78.8" r="9.3"/><circle cx="147.0" cy="55.1" r="4.7"/><circle cx="169.2" cy="30.1" r="14.0"/><circle cx="188.7" cy="49.6" r="14.0"/><circle cx="180.4" cy="60.7" r="10.9"/><circle cx="172.0" cy="69.1" r="4.7"/><circle cx="251.3" cy="-3.8" r="11.8"/><circle cx="268.0" cy="-3.3" r="7.5"/><circle cx="284.7" cy="41.2" r="12.5"/><circle cx="288.9" cy="66.3" r="11.8"/><circle cx="307.0" cy="62.1" r="13.1"/><circle cx="319.5" cy="74.6" r="6.2"/><circle cx="41.2" cy="57.9" r="9.3"/><circle cx="48.2" cy="80.2" r="6.2"/><circle cx="34.3" cy="99.7" r="10.0"/><circle cx="52.4" cy="102.4" r="7.8"/><circle cx="70.5" cy="98.3" r="14.6"/><circle cx="3.7" cy="116.4" r="9.3"/><circle cx="30.1" cy="130.3" r="9.3"/><circle cx="21.8" cy="151.1" r="12.5"/><circle cx="34.3" cy="144.2" r="6.2"/><circle cx="48.2" cy="138.6" r="9.3"/><circle cx="44.0" cy="166.4" r="13.1"/><circle cx="62.1" cy="158.1" r="9.3"/><circle cx="85.8" cy="127.5" r="6.2"/><circle cx="98.3" cy="135.8" r="10.9"/><circle cx="109.4" cy="144.2" r="7.8"/><circle cx="91.3" cy="160.9" r="7.8"/><circle cx="105.2" cy="167.8" r="7.8"/><circle cx="119.1" cy="163.7" r="9.3"/><circle cx="151.1" cy="119.1" r="12.5"/><circle cx="166.4" cy="140.0" r="8.7"/><circle cx="179.0" cy="158.1" r="12.5"/><circle cx="145.6" cy="169.2" r="10.9"/><circle cx="198.4" cy="98.3" r="12.5"/><circle cx="215.1" cy="117.8" r="10.9"/><circle cx="247.1" cy="87.1" r="14.0"/><circle cx="270.8" cy="103.8" r="14.3"/><circle cx="273.6" cy="121.9" r="5.6"/><circle cx="308.3" cy="108.0" r="3.1"/><circle cx="320.9" cy="116.4" r="7.8"/><circle cx="212.4" cy="180.4" r="14.0"/><circle cx="205.4" cy="197.1" r="9.3"/><circle cx="249.9" cy="191.5" r="7.8"/><circle cx="130.3" cy="219.3" r="18.7"/><circle cx="183.1" cy="229.0" r="18.1"/><circle cx="172.0" cy="244.4" r="9.3"/><circle cx="185.9" cy="258.3" r="10.9"/><circle cx="230.4" cy="215.1" r="12.5"/><circle cx="249.9" cy="223.5" r="14.0"/><circle cx="211.0" cy="244.4" r="9.3"/><circle cx="227.7" cy="244.4" r="12.5"/><circle cx="247.1" cy="244.4" r="8.7"/><circle cx="66.3" cy="236.0" r="10.9"/><circle cx="27.3" cy="236.0" r="17.1"/><circle cx="9.2" cy="244.4" r="10.9"/><circle cx="21.8" cy="269.4" r="10.9"/><circle cx="78.8" cy="266.6" r="14.0"/><circle cx="59.3" cy="269.4" r="6.9"/><circle cx="55.1" cy="298.6" r="15.6"/><circle cx="113.6" cy="265.2" r="9.3"/><circle cx="130.3" cy="275.0" r="15.6"/><circle cx="152.5" cy="288.9" r="14.0"/><circle cx="130.3" cy="313.9" r="12.5"/><circle cx="14.8" cy="308.3" r="13.1"/><circle cx="63.5" cy="313.9" r="10.9"/><circle cx="233.2" cy="286.1" r="14.0"/><circle cx="266.6" cy="275.0" r="9.3"/><circle cx="302.8" cy="254.1" r="12.5"/><circle cx="318.1" cy="247.1" r="8.7"/><circle cx="311.1" cy="286.1" r="14.0"/><circle cx="290.3" cy="301.4" r="9.3"/><circle cx="294.4" cy="315.3" r="10.9"/><circle cx="251.3" cy="313.9" r="9.3"/><circle cx="316.7" cy="315.3" r="7.8"/></g><g filter="url(#fSem)" fill="#ffffff" opacity="0.55"><circle cx="85.8" cy="14.8" r="7.2"/><circle cx="73.2" cy="32.9" r="6.0"/><circle cx="91.3" cy="41.2" r="6.9"/><circle cx="108.0" cy="32.9" r="6.9"/><circle cx="126.1" cy="14.8" r="7.7"/><circle cx="141.4" cy="10.6" r="6.0"/><circle cx="130.3" cy="25.9" r="5.1"/><circle cx="96.9" cy="57.9" r="4.3"/><circle cx="121.9" cy="66.3" r="8.9"/><circle cx="131.7" cy="78.8" r="5.1"/><circle cx="147.0" cy="55.1" r="2.6"/><circle cx="169.2" cy="30.1" r="7.7"/><circle cx="188.7" cy="49.6" r="7.7"/><circle cx="180.4" cy="60.7" r="6.0"/><circle cx="172.0" cy="69.1" r="2.6"/><circle cx="251.3" cy="-3.8" r="6.5"/><circle cx="268.0" cy="-3.3" r="4.1"/><circle cx="284.7" cy="41.2" r="6.9"/><circle cx="288.9" cy="66.3" r="6.5"/><circle cx="307.0" cy="62.1" r="7.2"/><circle cx="319.5" cy="74.6" r="3.4"/><circle cx="41.2" cy="57.9" r="5.1"/><circle cx="48.2" cy="80.2" r="3.4"/><circle cx="34.3" cy="99.7" r="5.5"/><circle cx="52.4" cy="102.4" r="4.3"/><circle cx="70.5" cy="98.3" r="8.1"/><circle cx="3.7" cy="116.4" r="5.1"/><circle cx="30.1" cy="130.3" r="5.1"/><circle cx="21.8" cy="151.1" r="6.9"/><circle cx="34.3" cy="144.2" r="3.4"/><circle cx="48.2" cy="138.6" r="5.1"/><circle cx="44.0" cy="166.4" r="7.2"/><circle cx="62.1" cy="158.1" r="5.1"/><circle cx="85.8" cy="127.5" r="3.4"/><circle cx="98.3" cy="135.8" r="6.0"/><circle cx="109.4" cy="144.2" r="4.3"/><circle cx="91.3" cy="160.9" r="4.3"/><circle cx="105.2" cy="167.8" r="4.3"/><circle cx="119.1" cy="163.7" r="5.1"/><circle cx="151.1" cy="119.1" r="6.9"/><circle cx="166.4" cy="140.0" r="4.8"/><circle cx="179.0" cy="158.1" r="6.9"/><circle cx="145.6" cy="169.2" r="6.0"/><circle cx="198.4" cy="98.3" r="6.9"/><circle cx="215.1" cy="117.8" r="6.0"/><circle cx="247.1" cy="87.1" r="7.7"/><circle cx="270.8" cy="103.8" r="7.9"/><circle cx="273.6" cy="121.9" r="3.1"/><circle cx="308.3" cy="108.0" r="1.7"/><circle cx="320.9" cy="116.4" r="4.3"/><circle cx="212.4" cy="180.4" r="7.7"/><circle cx="205.4" cy="197.1" r="5.1"/><circle cx="249.9" cy="191.5" r="4.3"/><circle cx="130.3" cy="219.3" r="10.3"/><circle cx="183.1" cy="229.0" r="9.9"/><circle cx="172.0" cy="244.4" r="5.1"/><circle cx="185.9" cy="258.3" r="6.0"/><circle cx="230.4" cy="215.1" r="6.9"/><circle cx="249.9" cy="223.5" r="7.7"/><circle cx="211.0" cy="244.4" r="5.1"/><circle cx="227.7" cy="244.4" r="6.9"/><circle cx="247.1" cy="244.4" r="4.8"/><circle cx="66.3" cy="236.0" r="6.0"/><circle cx="27.3" cy="236.0" r="9.4"/><circle cx="9.2" cy="244.4" r="6.0"/><circle cx="21.8" cy="269.4" r="6.0"/><circle cx="78.8" cy="266.6" r="7.7"/><circle cx="59.3" cy="269.4" r="3.8"/><circle cx="55.1" cy="298.6" r="8.6"/><circle cx="113.6" cy="265.2" r="5.1"/><circle cx="130.3" cy="275.0" r="8.6"/><circle cx="152.5" cy="288.9" r="7.7"/><circle cx="130.3" cy="313.9" r="6.9"/><circle cx="14.8" cy="308.3" r="7.2"/><circle cx="63.5" cy="313.9" r="6.0"/><circle cx="233.2" cy="286.1" r="7.7"/><circle cx="266.6" cy="275.0" r="5.1"/><circle cx="302.8" cy="254.1" r="6.9"/><circle cx="318.1" cy="247.1" r="4.8"/><circle cx="311.1" cy="286.1" r="7.7"/><circle cx="290.3" cy="301.4" r="5.1"/><circle cx="294.4" cy="315.3" r="6.0"/><circle cx="251.3" cy="313.9" r="5.1"/><circle cx="316.7" cy="315.3" r="4.3"/></g></g></g><g transform="translate(401,841)"><g clip-path="url(#ceL)"><rect x="0" y="0" width="324" height="323" fill="#000"/><g filter="url(#fCo)" fill="#3c52d6" ><circle cx="85.8" cy="14.8" r="13.7"/><circle cx="73.2" cy="32.9" r="11.5"/><circle cx="91.3" cy="41.2" r="13.1"/><circle cx="108.0" cy="32.9" r="13.1"/><circle cx="126.1" cy="14.8" r="14.7"/><circle cx="141.4" cy="10.6" r="11.5"/><circle cx="130.3" cy="25.9" r="9.8"/><circle cx="96.9" cy="57.9" r="8.2"/><circle cx="121.9" cy="66.3" r="17.0"/><circle cx="131.7" cy="78.8" r="9.8"/><circle cx="147.0" cy="55.1" r="4.9"/><circle cx="169.2" cy="30.1" r="14.7"/><circle cx="188.7" cy="49.6" r="14.7"/><circle cx="180.4" cy="60.7" r="11.5"/><circle cx="172.0" cy="69.1" r="4.9"/><circle cx="251.3" cy="-3.8" r="12.4"/><circle cx="268.0" cy="-3.3" r="7.9"/><circle cx="284.7" cy="41.2" r="13.1"/><circle cx="288.9" cy="66.3" r="12.4"/><circle cx="307.0" cy="62.1" r="13.7"/><circle cx="319.5" cy="74.6" r="6.5"/><circle cx="41.2" cy="57.9" r="9.8"/><circle cx="48.2" cy="80.2" r="6.5"/><circle cx="34.3" cy="99.7" r="10.5"/><circle cx="52.4" cy="102.4" r="8.2"/><circle cx="70.5" cy="98.3" r="15.4"/><circle cx="3.7" cy="116.4" r="9.8"/><circle cx="30.1" cy="130.3" r="9.8"/><circle cx="21.8" cy="151.1" r="13.1"/><circle cx="34.3" cy="144.2" r="6.5"/><circle cx="48.2" cy="138.6" r="9.8"/><circle cx="44.0" cy="166.4" r="13.7"/><circle cx="62.1" cy="158.1" r="9.8"/><circle cx="85.8" cy="127.5" r="6.5"/><circle cx="98.3" cy="135.8" r="11.5"/><circle cx="109.4" cy="144.2" r="8.2"/><circle cx="91.3" cy="160.9" r="8.2"/><circle cx="105.2" cy="167.8" r="8.2"/><circle cx="119.1" cy="163.7" r="9.8"/><circle cx="151.1" cy="119.1" r="13.1"/><circle cx="166.4" cy="140.0" r="9.2"/><circle cx="179.0" cy="158.1" r="13.1"/><circle cx="145.6" cy="169.2" r="11.5"/><circle cx="198.4" cy="98.3" r="13.1"/><circle cx="215.1" cy="117.8" r="11.5"/><circle cx="247.1" cy="87.1" r="14.7"/><circle cx="270.8" cy="103.8" r="15.1"/><circle cx="273.6" cy="121.9" r="5.9"/><circle cx="308.3" cy="108.0" r="3.3"/><circle cx="320.9" cy="116.4" r="8.2"/><circle cx="212.4" cy="180.4" r="14.7"/><circle cx="205.4" cy="197.1" r="9.8"/><circle cx="249.9" cy="191.5" r="8.2"/><circle cx="130.3" cy="219.3" r="19.6"/><circle cx="183.1" cy="229.0" r="19.0"/><circle cx="172.0" cy="244.4" r="9.8"/><circle cx="185.9" cy="258.3" r="11.5"/><circle cx="230.4" cy="215.1" r="13.1"/><circle cx="249.9" cy="223.5" r="14.7"/><circle cx="211.0" cy="244.4" r="9.8"/><circle cx="227.7" cy="244.4" r="13.1"/><circle cx="247.1" cy="244.4" r="9.2"/><circle cx="66.3" cy="236.0" r="11.5"/><circle cx="27.3" cy="236.0" r="18.0"/><circle cx="9.2" cy="244.4" r="11.5"/><circle cx="21.8" cy="269.4" r="11.5"/><circle cx="78.8" cy="266.6" r="14.7"/><circle cx="59.3" cy="269.4" r="7.2"/><circle cx="55.1" cy="298.6" r="16.4"/><circle cx="113.6" cy="265.2" r="9.8"/><circle cx="130.3" cy="275.0" r="16.4"/><circle cx="152.5" cy="288.9" r="14.7"/><circle cx="130.3" cy="313.9" r="13.1"/><circle cx="14.8" cy="308.3" r="13.7"/><circle cx="63.5" cy="313.9" r="11.5"/><circle cx="233.2" cy="286.1" r="14.7"/><circle cx="266.6" cy="275.0" r="9.8"/><circle cx="302.8" cy="254.1" r="13.1"/><circle cx="318.1" cy="247.1" r="9.2"/><circle cx="311.1" cy="286.1" r="14.7"/><circle cx="290.3" cy="301.4" r="9.8"/><circle cx="294.4" cy="315.3" r="11.5"/><circle cx="251.3" cy="313.9" r="9.8"/><circle cx="316.7" cy="315.3" r="8.2"/></g></g></g><g transform="translate(724,841)"><g clip-path="url(#ceL)"><rect x="0" y="0" width="324" height="323" fill="#000"/><rect x="0" y="0" width="324" height="323" filter="url(#fCrM)"/></g></g><g transform="translate(1047,841)"><g clip-path="url(#ceL)"><rect x="0" y="0" width="324" height="323" fill="#141409"/><rect x="0" y="0" width="324" height="323" filter="url(#fMnM)"/></g></g><g transform="translate(1370,841)"><g clip-path="url(#ceL)"><rect x="0" y="0" width="324" height="323" fill="#000"/><g filter="url(#fNi)" fill="#00b055" ><circle cx="85.8" cy="14.8" r="13.7"/><circle cx="73.2" cy="32.9" r="11.5"/><circle cx="91.3" cy="41.2" r="13.1"/><circle cx="108.0" cy="32.9" r="13.1"/><circle cx="126.1" cy="14.8" r="14.7"/><circle cx="141.4" cy="10.6" r="11.5"/><circle cx="130.3" cy="25.9" r="9.8"/><circle cx="96.9" cy="57.9" r="8.2"/><circle cx="121.9" cy="66.3" r="17.0"/><circle cx="131.7" cy="78.8" r="9.8"/><circle cx="147.0" cy="55.1" r="4.9"/><circle cx="169.2" cy="30.1" r="14.7"/><circle cx="188.7" cy="49.6" r="14.7"/><circle cx="180.4" cy="60.7" r="11.5"/><circle cx="172.0" cy="69.1" r="4.9"/><circle cx="251.3" cy="-3.8" r="12.4"/><circle cx="268.0" cy="-3.3" r="7.9"/><circle cx="284.7" cy="41.2" r="13.1"/><circle cx="288.9" cy="66.3" r="12.4"/><circle cx="307.0" cy="62.1" r="13.7"/><circle cx="319.5" cy="74.6" r="6.5"/><circle cx="41.2" cy="57.9" r="9.8"/><circle cx="48.2" cy="80.2" r="6.5"/><circle cx="34.3" cy="99.7" r="10.5"/><circle cx="52.4" cy="102.4" r="8.2"/><circle cx="70.5" cy="98.3" r="15.4"/><circle cx="3.7" cy="116.4" r="9.8"/><circle cx="30.1" cy="130.3" r="9.8"/><circle cx="21.8" cy="151.1" r="13.1"/><circle cx="34.3" cy="144.2" r="6.5"/><circle cx="48.2" cy="138.6" r="9.8"/><circle cx="44.0" cy="166.4" r="13.7"/><circle cx="62.1" cy="158.1" r="9.8"/><circle cx="85.8" cy="127.5" r="6.5"/><circle cx="98.3" cy="135.8" r="11.5"/><circle cx="109.4" cy="144.2" r="8.2"/><circle cx="91.3" cy="160.9" r="8.2"/><circle cx="105.2" cy="167.8" r="8.2"/><circle cx="119.1" cy="163.7" r="9.8"/><circle cx="151.1" cy="119.1" r="13.1"/><circle cx="166.4" cy="140.0" r="9.2"/><circle cx="179.0" cy="158.1" r="13.1"/><circle cx="145.6" cy="169.2" r="11.5"/><circle cx="198.4" cy="98.3" r="13.1"/><circle cx="215.1" cy="117.8" r="11.5"/><circle cx="247.1" cy="87.1" r="14.7"/><circle cx="270.8" cy="103.8" r="15.1"/><circle cx="273.6" cy="121.9" r="5.9"/><circle cx="308.3" cy="108.0" r="3.3"/><circle cx="320.9" cy="116.4" r="8.2"/><circle cx="212.4" cy="180.4" r="14.7"/><circle cx="205.4" cy="197.1" r="9.8"/><circle cx="249.9" cy="191.5" r="8.2"/><circle cx="130.3" cy="219.3" r="19.6"/><circle cx="183.1" cy="229.0" r="19.0"/><circle cx="172.0" cy="244.4" r="9.8"/><circle cx="185.9" cy="258.3" r="11.5"/><circle cx="230.4" cy="215.1" r="13.1"/><circle cx="249.9" cy="223.5" r="14.7"/><circle cx="211.0" cy="244.4" r="9.8"/><circle cx="227.7" cy="244.4" r="13.1"/><circle cx="247.1" cy="244.4" r="9.2"/><circle cx="66.3" cy="236.0" r="11.5"/><circle cx="27.3" cy="236.0" r="18.0"/><circle cx="9.2" cy="244.4" r="11.5"/><circle cx="21.8" cy="269.4" r="11.5"/><circle cx="78.8" cy="266.6" r="14.7"/><circle cx="59.3" cy="269.4" r="7.2"/><circle cx="55.1" cy="298.6" r="16.4"/><circle cx="113.6" cy="265.2" r="9.8"/><circle cx="130.3" cy="275.0" r="16.4"/><circle cx="152.5" cy="288.9" r="14.7"/><circle cx="130.3" cy="313.9" r="13.1"/><circle cx="14.8" cy="308.3" r="13.7"/><circle cx="63.5" cy="313.9" r="11.5"/><circle cx="233.2" cy="286.1" r="14.7"/><circle cx="266.6" cy="275.0" r="9.8"/><circle cx="302.8" cy="254.1" r="13.1"/><circle cx="318.1" cy="247.1" r="9.2"/><circle cx="311.1" cy="286.1" r="14.7"/><circle cx="290.3" cy="301.4" r="9.8"/><circle cx="294.4" cy="315.3" r="11.5"/><circle cx="251.3" cy="313.9" r="9.8"/><circle cx="316.7" cy="315.3" r="8.2"/></g></g></g><g transform="translate(1693,841)"><g clip-path="url(#ceL)"><rect x="0" y="0" width="324" height="323" fill="#021d20"/><rect x="0" y="0" width="324" height="323" filter="url(#fVM)"/></g></g><text x="714.8" y="874.6" font-size="30" fill="#fff" text-anchor="end">Co<tspan font-size="20" dy="7.9">0.37</tspan></text><text x="1035" y="874.6" font-size="30" fill="#fff" text-anchor="end">Cr<tspan font-size="20" dy="7.9">0.07</tspan></text><text x="1357.8" y="874.6" font-size="30" fill="#fff" text-anchor="end">Mn<tspan font-size="20" dy="7.9">0.01</tspan></text><text x="1680" y="874.6" font-size="30" fill="#fff" text-anchor="end">Ni<tspan font-size="20" dy="7.9">0.45</tspan></text><text x="2001.5" y="874.6" font-size="30" fill="#fff" text-anchor="end">V<tspan font-size="20" dy="7.9">0.10</tspan></text><rect x="103.1" y="1127.2" width="78.5" height="15.6" fill="#fff"/><text x="110.6" y="1112.8" font-size="25.3" fill="#fff">2 µm</text>
</svg>
</body></html>
